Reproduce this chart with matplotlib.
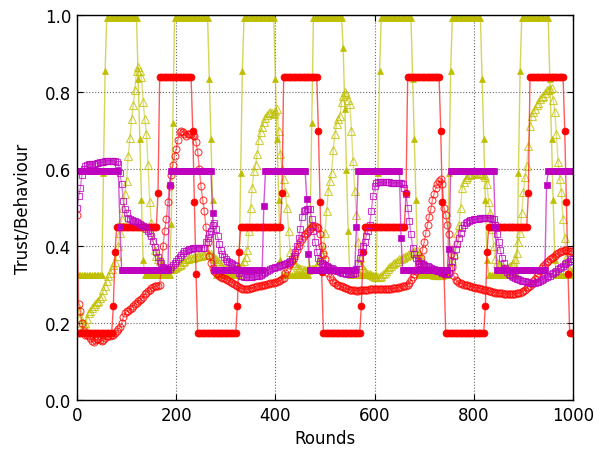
import numpy as np
import matplotlib
matplotlib.use("Agg")
import matplotlib.pyplot as plt

# sampling: one record every 10/3 rounds, 301 records over 1000 rounds
rounds = np.arange(301) * 10.0 / 3.0

# behaviour series stored as (level, number of consecutive records)
red_behaviour_runs = [
    (0.175, 22), (0.245, 1), (0.385, 1), (0.45, 25), (0.537, 1), (0.84, 20), (0.70, 1), (0.515, 1), (0.327, 1),
    (0.175, 24), (0.245, 1), (0.385, 1), (0.45, 25), (0.537, 1), (0.84, 21), (0.70, 1), (0.515, 1), (0.332, 1),
    (0.175, 23), (0.245, 1), (0.385, 1), (0.45, 25), (0.537, 1), (0.84, 20), (0.70, 1), (0.515, 1), (0.327, 1),
    (0.175, 24), (0.245, 1), (0.385, 1), (0.45, 24), (0.537, 1), (0.84, 21), (0.70, 1), (0.515, 1), (0.327, 1),
    (0.175, 3),
]

yellow_behaviour_runs = [
    (0.325, 16), (0.59, 1), (0.855, 1), (0.993, 19), (0.835, 1), (0.678, 1), (0.52, 1), (0.364, 1),
    (0.325, 16), (0.457, 1), (0.72, 1), (0.993, 21), (0.835, 1), (0.678, 1), (0.52, 1), (0.364, 1),
    (0.325, 15), (0.59, 1), (0.855, 1), (0.993, 19), (0.835, 1), (0.678, 1), (0.52, 1), (0.364, 1),
    (0.325, 17), (0.457, 1), (0.72, 1), (0.993, 18), (0.913, 1), (0.756, 1), (0.598, 1), (0.44, 1),
    (0.325, 17), (0.59, 1), (0.855, 1), (0.993, 19), (0.835, 1), (0.678, 1), (0.52, 1), (0.364, 1),
    (0.325, 18), (0.59, 1), (0.855, 1), (0.993, 18), (0.835, 1), (0.678, 1), (0.52, 1), (0.364, 1),
    (0.325, 18), (0.59, 1), (0.855, 1), (0.993, 17), (0.835, 1), (0.678, 1), (0.52, 1), (0.364, 1),
    (0.325, 11),
]

magenta_behaviour_runs = [
    (0.594, 26), (0.45, 1), (0.337, 29), (0.558, 1), (0.594, 25), (0.487, 1),
    (0.337, 30), (0.505, 1), (0.594, 25), (0.522, 1), (0.379, 1),
    (0.337, 28), (0.449, 1), (0.594, 26), (0.42, 1),
    (0.337, 28), (0.392, 1), (0.594, 27), (0.449, 1),
    (0.337, 30), (0.558, 1), (0.594, 16),
]

# trust series, one value per record
red_trust = [
    0.48, 0.25, 0.23, 0.20, 0.18, 0.17, 0.168, 0.165, 0.16, 0.152,
    0.15, 0.155, 0.158, 0.158, 0.156, 0.154, 0.155, 0.16, 0.165, 0.167,
    0.167, 0.168, 0.17, 0.175, 0.178, 0.184, 0.19, 0.20, 0.215, 0.225,
    0.23, 0.232, 0.236, 0.24, 0.245, 0.249, 0.253, 0.256, 0.259, 0.262,
    0.268, 0.275, 0.279, 0.283, 0.287, 0.29, 0.293, 0.295, 0.297, 0.297,
    0.30, 0.34, 0.40, 0.44, 0.47, 0.515, 0.555, 0.585, 0.61, 0.635,
    0.652, 0.675, 0.695, 0.70, 0.695, 0.69, 0.687, 0.69, 0.69, 0.69,
    0.688, 0.687, 0.67, 0.645, 0.60, 0.555, 0.52, 0.49, 0.45, 0.41,
    0.375, 0.355, 0.343, 0.335, 0.33, 0.326, 0.323, 0.32, 0.318, 0.316,
    0.314, 0.312, 0.31, 0.307, 0.305, 0.302, 0.298, 0.296, 0.293, 0.29,
    0.289, 0.288, 0.288, 0.288, 0.289, 0.29, 0.291, 0.293, 0.294, 0.295,
    0.296, 0.297, 0.298, 0.299, 0.30, 0.301, 0.302, 0.303, 0.304, 0.305,
    0.306, 0.307, 0.309, 0.311, 0.314, 0.318, 0.33, 0.34, 0.35, 0.355,
    0.362, 0.368, 0.38, 0.39, 0.40, 0.41, 0.418, 0.425, 0.43, 0.435,
    0.44, 0.445, 0.45, 0.453, 0.453, 0.45, 0.448, 0.43, 0.40, 0.38,
    0.366, 0.345, 0.33, 0.319, 0.312, 0.307, 0.304, 0.30, 0.298, 0.297,
    0.295, 0.293, 0.291, 0.29, 0.288, 0.287, 0.286, 0.285, 0.285, 0.284,
    0.284, 0.285, 0.285, 0.286, 0.286, 0.287, 0.287, 0.288, 0.288, 0.288,
    0.288, 0.288, 0.288, 0.288, 0.288, 0.288, 0.288, 0.288, 0.289, 0.289,
    0.289, 0.29, 0.29, 0.291, 0.292, 0.293, 0.294, 0.295, 0.296, 0.297,
    0.30, 0.305, 0.312, 0.32, 0.328, 0.336, 0.345, 0.355, 0.37, 0.39,
    0.41, 0.435, 0.455, 0.475, 0.495, 0.52, 0.535, 0.55, 0.56, 0.568,
    0.573, 0.56, 0.50, 0.48, 0.455, 0.43, 0.38, 0.345, 0.322, 0.312,
    0.308, 0.305, 0.304, 0.302, 0.30, 0.299, 0.298, 0.296, 0.295, 0.294,
    0.293, 0.292, 0.291, 0.29, 0.289, 0.288, 0.287, 0.286, 0.285, 0.284,
    0.283, 0.281, 0.28, 0.279, 0.278, 0.278, 0.277, 0.277, 0.276, 0.276,
    0.275, 0.275, 0.275, 0.275, 0.276, 0.276, 0.277, 0.278, 0.279, 0.281,
    0.283, 0.286, 0.29, 0.294, 0.297, 0.302, 0.308, 0.315, 0.322, 0.329,
    0.336, 0.343, 0.349, 0.354, 0.358, 0.362, 0.366, 0.369, 0.372, 0.375,
    0.379, 0.382, 0.384, 0.386, 0.388, 0.389, 0.389, 0.388, 0.388, 0.386,
    0.385,
]

yellow_trust = [
    0.25, 0.23, 0.215, 0.20, 0.195, 0.20, 0.21, 0.225, 0.232, 0.238,
    0.244, 0.25, 0.254, 0.258, 0.264, 0.271, 0.285, 0.297, 0.31, 0.322,
    0.331, 0.34, 0.35, 0.358, 0.375, 0.40, 0.435, 0.47, 0.50, 0.535,
    0.57, 0.635, 0.68, 0.73, 0.765, 0.805, 0.855, 0.864, 0.855, 0.838,
    0.775, 0.73, 0.69, 0.61, 0.515, 0.46, 0.415, 0.39, 0.375, 0.367,
    0.36, 0.352, 0.346, 0.342, 0.34, 0.339, 0.339, 0.34, 0.34, 0.342,
    0.345, 0.348, 0.351, 0.354, 0.358, 0.362, 0.366, 0.367, 0.368, 0.369,
    0.37, 0.371, 0.372, 0.373, 0.374, 0.375, 0.376, 0.377, 0.378, 0.379,
    0.379, 0.378, 0.375, 0.37, 0.365, 0.36, 0.355, 0.35, 0.345, 0.342,
    0.34, 0.339, 0.338, 0.338, 0.338, 0.339, 0.34, 0.341, 0.342, 0.345,
    0.35, 0.36, 0.372, 0.39, 0.44, 0.50, 0.55, 0.595, 0.61, 0.64,
    0.675, 0.697, 0.71, 0.722, 0.733, 0.74, 0.745, 0.747, 0.746, 0.743,
    0.75, 0.756, 0.70, 0.64, 0.60, 0.574, 0.54, 0.50, 0.44, 0.385,
    0.365, 0.355, 0.35, 0.345, 0.342, 0.34, 0.339, 0.338, 0.338, 0.338,
    0.338, 0.339, 0.34, 0.341, 0.342, 0.345, 0.355, 0.365, 0.38, 0.392,
    0.435, 0.49, 0.544, 0.57, 0.59, 0.65, 0.69, 0.717, 0.73, 0.738,
    0.773, 0.79, 0.80, 0.795, 0.78, 0.77, 0.70, 0.62, 0.544, 0.48,
    0.41, 0.37, 0.35, 0.34, 0.335, 0.33, 0.328, 0.326, 0.325, 0.323,
    0.32, 0.319, 0.319, 0.319, 0.322, 0.326, 0.331, 0.336, 0.34, 0.346,
    0.349, 0.352, 0.355, 0.358, 0.362, 0.365, 0.367, 0.369, 0.372, 0.375,
    0.377, 0.379, 0.382, 0.385, 0.387, 0.388, 0.388, 0.38, 0.37, 0.358,
    0.345, 0.338, 0.333, 0.33, 0.328, 0.326, 0.325, 0.325, 0.325, 0.325,
    0.325, 0.325, 0.326, 0.328, 0.33, 0.335, 0.345, 0.36, 0.38, 0.41,
    0.435, 0.455, 0.50, 0.55, 0.565, 0.575, 0.58, 0.585, 0.587, 0.588,
    0.588, 0.59, 0.59, 0.59, 0.59, 0.588, 0.585, 0.578, 0.561, 0.513,
    0.487, 0.444, 0.40, 0.366, 0.355, 0.35, 0.347, 0.345, 0.344, 0.344,
    0.344, 0.345, 0.347, 0.35, 0.355, 0.365, 0.383, 0.41, 0.435, 0.487,
    0.539, 0.58, 0.608, 0.66, 0.712, 0.738, 0.748, 0.756, 0.765, 0.772,
    0.782, 0.786, 0.79, 0.797, 0.804, 0.806, 0.808, 0.81, 0.78, 0.747,
    0.691, 0.617, 0.575, 0.539, 0.47, 0.42, 0.37, 0.345, 0.335, 0.333,
    0.332,
]

magenta_trust = [
    0.50, 0.53, 0.55, 0.585, 0.60, 0.608, 0.61, 0.612, 0.613, 0.613,
    0.613, 0.614, 0.615, 0.616, 0.617, 0.617, 0.619, 0.62, 0.621, 0.622,
    0.622, 0.622, 0.622, 0.62, 0.617, 0.613, 0.59, 0.561, 0.518, 0.496,
    0.485, 0.474, 0.47, 0.468, 0.466, 0.464, 0.462, 0.46, 0.457, 0.455,
    0.452, 0.449, 0.445, 0.44, 0.435, 0.425, 0.412, 0.398, 0.385, 0.372,
    0.362, 0.355, 0.346, 0.343, 0.341, 0.34, 0.34, 0.345, 0.35, 0.356,
    0.362, 0.367, 0.372, 0.377, 0.383, 0.386, 0.388, 0.39, 0.392, 0.393,
    0.394, 0.395, 0.396, 0.396, 0.396, 0.396, 0.396, 0.396, 0.41, 0.42,
    0.43, 0.44, 0.455, 0.46, 0.445, 0.425, 0.405, 0.39, 0.38, 0.372,
    0.366, 0.362, 0.358, 0.355, 0.352, 0.35, 0.349, 0.34, 0.33, 0.323,
    0.321, 0.32, 0.319, 0.319, 0.319, 0.319, 0.32, 0.321, 0.322, 0.323,
    0.323, 0.324, 0.326, 0.329, 0.333, 0.336, 0.338, 0.34, 0.342, 0.344,
    0.345, 0.346, 0.348, 0.35, 0.351, 0.352, 0.353, 0.355, 0.358, 0.362,
    0.365, 0.375, 0.385, 0.40, 0.42, 0.444, 0.475, 0.49, 0.493, 0.495,
    0.496, 0.496, 0.47, 0.44, 0.41, 0.385, 0.37, 0.362, 0.356, 0.353,
    0.35, 0.348, 0.346, 0.344, 0.342, 0.34, 0.338, 0.336, 0.334, 0.332,
    0.331, 0.33, 0.329, 0.328, 0.327, 0.327, 0.327, 0.328, 0.33, 0.34,
    0.355, 0.37, 0.385, 0.40, 0.41, 0.427, 0.44, 0.455, 0.49, 0.53,
    0.555, 0.563, 0.565, 0.565, 0.565, 0.565, 0.565, 0.565, 0.565, 0.565,
    0.564, 0.564, 0.564, 0.564, 0.564, 0.564, 0.563, 0.56, 0.55, 0.535,
    0.50, 0.465, 0.43, 0.395, 0.378, 0.368, 0.36, 0.357, 0.355, 0.353,
    0.351, 0.349, 0.347, 0.345, 0.343, 0.341, 0.339, 0.337, 0.336, 0.334,
    0.332, 0.331, 0.33, 0.328, 0.327, 0.33, 0.345, 0.36, 0.375, 0.392,
    0.405, 0.42, 0.435, 0.448, 0.455, 0.46, 0.463, 0.466, 0.467, 0.468,
    0.469, 0.47, 0.47, 0.471, 0.472, 0.473, 0.474, 0.474, 0.474, 0.473,
    0.472, 0.471, 0.47, 0.455, 0.43, 0.41, 0.39, 0.37, 0.355, 0.343,
    0.333, 0.328, 0.325, 0.322, 0.319, 0.317, 0.315, 0.313, 0.311, 0.31,
    0.309, 0.308, 0.307, 0.306, 0.305, 0.305, 0.305, 0.305, 0.306, 0.307,
    0.309, 0.311, 0.314, 0.316, 0.319, 0.321, 0.323, 0.326, 0.33, 0.333,
    0.336, 0.339, 0.342, 0.345, 0.349, 0.352, 0.356, 0.359, 0.362, 0.365,
    0.367,
]

x_ticks = [0, 200, 400, 600, 800, 1000]
y_ticks = [0.0, 0.2, 0.4, 0.6, 0.8, 1.0]


def expand(runs):
    levels = [lv for lv, _ in runs]
    counts = [n for _, n in runs]
    return np.repeat(levels, counts)


red_behaviour = expand(red_behaviour_runs)
yellow_behaviour = expand(yellow_behaviour_runs)
magenta_behaviour = expand(magenta_behaviour_runs)

RED = (1.0, 0.0, 0.0)
YEL = (0.75, 0.75, 0.0)
MAG = (0.75, 0.0, 0.75)

plt.rcParams["font.family"] = ["DejaVu Sans"]
plt.rcParams["font.size"] = 12

fig = plt.figure(figsize=(5.99, 4.52), dpi=100)
ax = fig.add_axes([77 / 599, 1 - 401 / 452, 496 / 599, 385 / 452])


def trust_line(y, color, marker, ms):
    ax.plot(rounds, y, linestyle="-", linewidth=1.0, color=color + (0.5,),
            marker=marker, markersize=ms, markerfacecolor="none",
            markeredgecolor=color + (0.75,), markeredgewidth=0.8)


def behaviour_line(y, color, marker, ms):
    ax.plot(rounds, y, linestyle="-", linewidth=1.0, color=color + (0.65,),
            marker=marker, markersize=ms, markerfacecolor=color,
            markeredgecolor=color, markeredgewidth=0.5)


trust_line(yellow_trust, YEL, "^", 5.5)
behaviour_line(yellow_behaviour, YEL, "^", 5.0)
trust_line(red_trust, RED, "o", 5.0)
behaviour_line(red_behaviour, RED, "o", 5.0)
trust_line(magenta_trust, MAG, "s", 4.5)
behaviour_line(magenta_behaviour, MAG, "s", 4.5)

ax.set_xlim(0, 1000)
ax.set_ylim(0, 1.0)
ax.set_xticks(x_ticks)
ax.set_yticks(y_ticks)
ax.set_yticklabels([f"{v:.1f}" for v in y_ticks])
ax.tick_params(direction="in", length=4, top=True, right=True, pad=4)
ax.grid(True, linestyle=":", color="#666666", linewidth=0.8)
for s in ax.spines.values():
    s.set_linewidth(1.0)
    s.set_color("black")
ax.set_xlabel("Rounds")
ax.set_ylabel("Trust/Behaviour", labelpad=10)

fig.savefig("out.png", dpi=100)
